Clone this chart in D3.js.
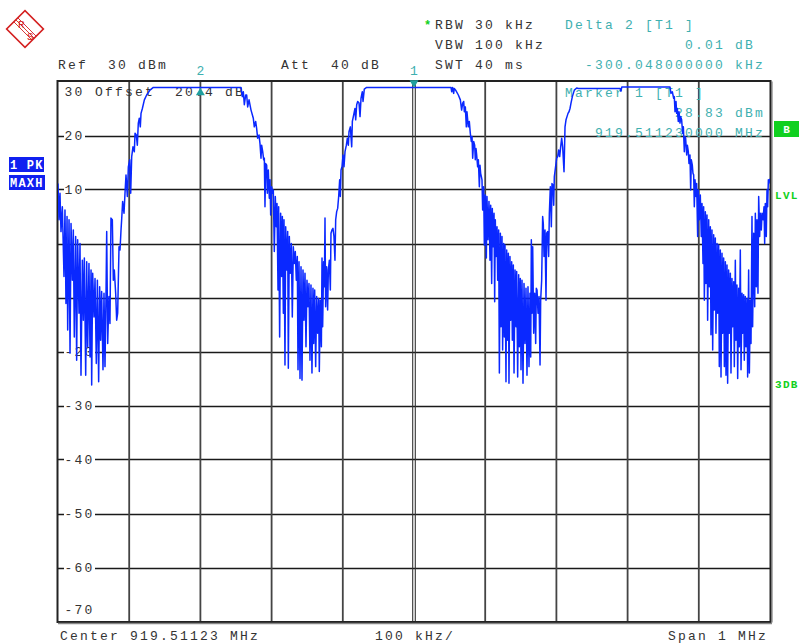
<!DOCTYPE html>
<html lang="en">
<head>
<meta charset="utf-8"/>
<title>Spectrum</title>
<script src="https://d3js.org/d3.v7.min.js"></script>
<style>
  body { margin: 0; background: #fff; }
  svg text { font-family: "Liberation Mono", "DejaVu Sans Mono", monospace; white-space: pre; }
</style>
</head>
<body>
<svg id="chart"></svg>
<script>
  const width = 799;
  const height = 644;
  const plot = {left: 58, right: 770, top: 81.5, bottom: 621.5};

  // axis values
  const spanKHz = [-500, 500];
  const levelRange = [-70, 30];
  const freqGridKHz = [-400, -300, -200, -100, 100, 200, 300, 400];
  const levelGrid = [20, 10, 0, -10, -20, -30, -40, -50, -60];
  const levelLabels = [30, 20, 10, -20, -30, -40, -50, -60, -70];

  // markers (kHz offset from centre, dBm)
  const markers = [
    {id: "1", kHz: 0, dBm: 28.83, dir: "down"},
    {id: "2", kHz: -300.048, dBm: 28.84, dir: "up"}
  ];

  // trace 1 (max hold): [kHz offset from 919.51123 MHz, dBm]
  const trace = [
    [-500,11.1],[-498.6,4.4],[-497.2,9.3],[-495.8,2.2],[-493.9,6.8],[-491.6,-6.1],[-490.2,6.2],[-488.8,-11.1],
    [-487.3,5.0],[-486.4,-16.0],[-484.5,4.4],[-483.1,-20.3],[-481.7,3.7],[-479.9,-6.8],[-478.5,2.5],[-477.1,-17.3],
    [-475.2,1.3],[-473.8,-21.6],[-472.4,0.7],[-470.5,-12.9],[-469.1,0.0],[-467.7,-24.4],[-465.8,-3.1],[-464.4,-14.2],
    [-463.0,-2.7],[-461.1,-24.4],[-459.7,-3.4],[-458.3,-19.1],[-456.5,-3.7],[-455.0,-21.0],[-453.6,-4.9],[-452.7,-26.2],
    [-451.3,-5.5],[-449.4,-13.6],[-448.0,-6.5],[-446.2,-22.2],[-444.7,-6.8],[-442.9,-25.6],[-441.5,-8.0],[-440.1,-17.9],
    [-438.7,-8.9],[-436.8,-23.4],[-435.4,-9.2],[-434.0,-22.8],[-432.6,-9.8],[-431.6,2.2],[-430.2,-18.5],[-428.4,-9.8],
    [-427.0,-14.8],[-425.6,4.7],[-423.7,4.4],[-422.3,-6.8],[-420.9,-4.9],[-419.0,-9.2],[-417.6,-14.2],[-416.2,-12.9],
    [-414.3,-0.6],[-412.9,-1.2],[-411.5,2.5],[-410.6,4.4],[-409.2,7.8],[-407.3,5.6],[-405.9,9.3],[-404.5,12.7],
    [-402.6,8.7],[-401.2,14.2],[-399.3,15.5],[-397.9,9.3],[-396.5,16.1],[-394.7,17.9],[-392.8,17.0],[-391.8,20.4],
    [-390.0,20.1],[-388.6,18.2],[-387.2,22.3],[-385.8,23.2],[-384.4,21.6],[-383.4,24.1],[-381.5,25.0],[-378.7,26.6],
    [-375.5,27.5],[-370.8,28.4],[-366.1,28.9],
    [-243.0,28.9],[-241.1,27.2],[-239.7,28.1],[-238.3,25.7],[-236.4,27.5],[-235.0,27.5],[-233.6,25.3],[-231.7,26.6],
    [-228.9,24.7],[-225.7,23.2],[-224.3,21.6],[-222.4,22.6],[-221.0,21.3],[-219.6,19.5],[-217.7,20.1],[-216.3,18.5],
    [-214.9,15.8],[-214.0,18.2],[-212.5,17.0],[-211.1,15.5],[-210.2,15.8],[-209.3,6.8],[-208.3,14.8],[-206.9,14.5],
    [-206.0,9.3],[-204.6,13.6],[-203.2,8.4],[-202.2,11.8],[-201.3,5.3],[-199.9,10.5],[-198.5,9.3],[-197.6,9.9],
    [-196.2,-1.5],[-194.8,8.7],[-193.4,3.1],[-192.4,7.4],[-191.0,-8.6],[-190.1,6.8],[-188.7,-17.3],[-187.3,5.6],
    [-185.9,-6.1],[-184.9,5.0],[-183.5,-12.9],[-182.6,4.4],[-181.2,-22.5],[-180.2,3.1],[-178.8,-4.9],[-177.4,2.2],
    [-176.5,-23.1],[-175.1,1.3],[-173.7,-5.5],[-172.3,0.0],[-170.9,-13.6],[-169.5,-0.6],[-168.1,-3.7],[-166.7,-1.5],
    [-165.3,-6.8],[-163.9,-2.4],[-162.9,-23.4],[-161.5,-3.4],[-160.1,-25.0],[-158.7,-4.3],[-157.3,-25.3],[-155.9,-4.9],
    [-154.5,-14.2],[-153.1,-5.5],[-151.7,-19.1],[-150.3,-6.8],[-148.9,-11.7],[-147.5,-7.4],[-146.1,-21.6],[-144.7,-7.7],
    [-143.3,-24.0],[-141.9,-8.3],[-140.9,-18.5],[-139.5,-8.6],[-138.1,-22.8],[-136.7,-9.8],[-135.3,-16.6],[-133.9,-10.2],
    [-133.0,-23.7],[-131.6,-10.5],[-130.1,-19.1],[-129.2,-2.7],[-128.3,-15.4],[-126.9,-3.4],[-125.9,-8.0],[-125.0,4.7],
    [-124.1,-11.7],[-122.7,-4.3],[-121.3,-12.3],[-120.3,-4.9],[-118.9,-3.1],[-117.5,-8.6],[-116.6,1.9],[-115.2,2.5],
    [-113.8,2.8],[-112.4,1.3],[-111.0,-3.1],[-110.0,4.4],[-108.6,5.9],[-107.2,6.5],[-105.8,8.7],[-104.4,11.8],
    [-103.5,8.7],[-102.5,13.6],[-101.1,14.2],[-99.7,16.4],[-98.3,14.2],[-96.9,17.0],[-95.0,18.2],[-93.6,19.5],
    [-92.2,18.2],[-91.3,20.7],[-89.4,21.6],[-87.5,17.9],[-86.6,22.6],[-84.7,23.8],[-82.9,25.0],[-81.9,22.9],
    [-80.5,25.7],[-79.1,26.3],[-77.2,26.0],[-75.8,23.5],[-74.4,26.9],[-72.6,28.1],[-71.6,26.3],[-69.8,28.6],
    [-66.5,28.9],
    [52.0,28.9],[52.9,28.1],[54.3,28.9],[55.7,27.8],[56.6,28.7],[58.5,28.4],[62.3,27.5],[65.1,26.6],
    [66.9,24.7],[68.4,26.0],[69.8,26.3],[70.7,24.4],[72.1,25.3],[73.5,21.6],[74.4,24.4],[75.4,22.9],
    [76.3,21.6],[77.7,22.6],[79.1,20.4],[80.5,18.9],[81.5,19.8],[82.4,15.8],[83.8,18.9],[85.2,18.2],
    [86.1,15.5],[87.1,17.6],[88.0,16.4],[89.4,14.2],[90.4,15.5],[91.8,10.5],[92.7,14.5],[93.6,13.0],
    [94.6,12.4],[95.5,11.8],[96.4,6.2],[97.8,10.5],[98.8,-0.3],[100.2,9.0],[101.6,-2.7],[102.5,8.7],
    [103.9,0.7],[105.3,7.8],[106.7,-3.1],[107.7,7.1],[109.1,-7.4],[110.0,6.5],[111.0,-0.6],[112.4,5.6],
    [113.3,-10.8],[114.2,4.4],[115.2,-2.4],[116.6,3.1],[117.5,-6.8],[118.9,2.5],[119.9,-24.0],[121.3,1.9],
    [122.2,-15.4],[123.6,1.3],[124.5,-19.7],[125.9,0.0],[126.9,-17.3],[127.8,-0.3],[129.2,-25.6],[130.2,-1.2],
    [131.1,-17.9],[132.5,-1.8],[133.4,-25.9],[134.8,-2.4],[135.8,-14.2],[137.2,-3.4],[138.1,-17.9],[139.5,-4.0],
    [140.5,-24.0],[141.9,-4.9],[143.3,-15.4],[144.2,-5.2],[145.6,-24.7],[147.0,-5.8],[147.9,-19.1],[149.3,-6.5],
    [150.3,-23.4],[151.7,-6.8],[153.1,-25.9],[154.5,-7.4],[155.9,-18.5],[157.3,-8.3],[158.7,-24.4],[160.1,-8.0],
    [161.5,-22.8],[162.9,-9.2],[163.9,-21.0],[164.8,0.7],[165.7,-12.9],[166.7,-0.6],[168.1,-16.6],[169.5,-9.2],
    [170.9,-18.5],[171.8,-8.3],[172.8,-8.6],[174.2,-12.9],[175.6,-9.8],[177.0,-22.5],[177.9,-10.5],[179.3,-6.8],
    [180.7,5.0],[181.6,3.7],[182.6,-2.4],[184.0,2.5],[185.4,-10.5],[186.3,1.9],[187.7,2.2],[189.1,-2.4],
    [190.1,5.6],[191.5,10.5],[192.9,3.1],[193.8,11.1],[195.2,10.8],[196.2,7.1],[197.1,12.4],[198.0,13.3],
    [199.4,14.8],[200.4,15.8],[201.8,16.1],[203.2,17.3],[204.6,16.1],[206.0,17.9],[207.4,19.5],[208.8,17.9],
    [210.7,13.3],[212.1,21.6],[213.5,22.9],[214.9,23.5],[216.3,24.1],[217.7,24.4],[219.1,25.0],[220.5,26.0],
    [222.4,27.2],[225.2,28.4],[228.5,28.8],[230.8,28.7],
    [289.5,28.7],[290.7,28.2],[291.9,29.0],
    [359.5,29.0],[360.9,27.8],[362.8,28.1],[364.7,26.9],[365.6,27.2],[366.6,24.4],[368.0,26.3],[368.9,24.1],
    [369.8,25.0],[371.2,22.6],[372.2,24.4],[373.6,22.3],[374.5,23.5],[375.9,22.9],[377.3,20.4],[378.3,21.6],
    [379.7,17.0],[380.6,19.8],[381.5,19.5],[383.0,16.4],[383.9,18.2],[385.3,17.0],[386.2,14.8],[387.6,16.4],
    [388.6,9.9],[389.5,15.5],[390.9,14.5],[391.8,13.0],[392.8,12.7],[393.7,6.8],[394.7,11.8],[396.1,8.7],
    [397.0,11.1],[398.4,1.3],[399.3,9.9],[400.7,4.4],[402.1,9.0],[403.5,1.3],[404.5,7.4],[405.9,-3.7],
    [406.8,6.8],[407.8,-10.5],[409.2,5.9],[410.1,-7.4],[411.5,5.3],[412.4,-14.2],[413.9,4.4],[414.8,-8.0],
    [416.2,3.1],[417.1,-16.9],[418.5,2.5],[419.5,-19.7],[420.9,1.6],[421.8,-12.3],[423.2,1.0],[424.1,-16.6],
    [425.6,0.0],[426.5,-12.9],[427.9,-0.3],[428.8,-22.8],[430.2,-1.2],[431.2,-24.7],[432.6,-1.8],[433.5,-16.6],
    [434.9,-2.7],[435.9,-22.8],[437.3,-3.4],[438.2,-24.4],[439.6,-4.0],[440.5,-25.9],[441.9,-4.9],[442.9,-16.6],
    [444.3,-5.5],[445.2,-24.0],[446.6,-6.5],[447.6,-15.4],[449.0,-7.1],[449.9,-22.8],[451.3,-3.1],[452.2,-17.9],
    [453.6,-7.7],[454.6,-25.0],[456.0,-8.3],[456.9,-19.1],[458.3,-1.2],[459.3,-23.4],[460.7,-9.2],[461.6,-16.6],
    [463.0,-9.5],[463.9,-21.6],[465.3,-9.8],[466.3,-19.1],[467.7,-10.2],[468.6,-24.7],[470.0,-4.9],[471.0,-24.0],
    [472.4,-10.5],[473.3,-18.5],[474.7,5.0],[475.6,-15.4],[477.1,1.9],[478.5,-11.7],[479.4,5.6],[480.8,-8.0],
    [481.7,4.4],[483.1,-9.2],[484.1,8.7],[485.5,1.3],[486.4,5.6],[487.8,2.5],[488.8,5.6],[490.2,4.4],
    [491.6,6.8],[492.5,0.0],[493.4,7.4],[494.8,1.3],[495.8,9.9],[496.7,6.8],[497.7,11.8],[498.6,11.2],
    [500,12.0]
  ];

  const textColor = "#333";
  const cyan = "#3fb0b0";
  const green = "#10d020";
  const blue = "#1020f0";

  const svg = d3.select("#chart")
    .attr("width", width)
    .attr("height", height);

  const x = d3.scaleLinear().domain(spanKHz).range([plot.left, plot.right]);
  const y = d3.scaleLinear().domain(levelRange).range([plot.bottom, plot.top]);

  // R&S logo
  const logo = svg.append("g").attr("transform", "translate(25,29)");
  logo.append("rect")
    .attr("x", -13).attr("y", -13).attr("width", 26).attr("height", 26)
    .attr("transform", "rotate(45)")
    .attr("fill", "none").attr("stroke", "#d42020").attr("stroke-width", 1.6);
  [-2, 0, 2].forEach((o) => {
    logo.append("line")
      .attr("x1", -9 + o).attr("y1", -9 - o).attr("x2", 9 + o).attr("y2", 9 - o)
      .attr("stroke", "#d42020").attr("stroke-width", 0.9);
  });
  logo.append("text").attr("x", -7).attr("y", -1).text("R")
    .attr("font-size", 11).attr("fill", "#d42020");
  logo.append("text").attr("x", 2).attr("y", 11).text("S")
    .attr("font-size", 11).attr("fill", "#d42020");

  const mono = (sel) => sel.attr("font-size", 13).attr("letter-spacing", 2.2);

  // header
  const header = [
    {t: "Ref  30 dBm", x: 58, y: 69, c: textColor},
    {t: "Att  40 dB", x: 281, y: 69, c: textColor},
    {t: "RBW 30 kHz", x: 435, y: 29, c: textColor},
    {t: "VBW 100 kHz", x: 435, y: 49, c: textColor},
    {t: "SWT 40 ms", x: 435, y: 69, c: textColor},
    {t: "Delta 2 [T1 ]", x: 565, y: 29, c: cyan},
    {t: "0.01 dB", x: 685, y: 49, c: cyan},
    {t: "-300.048000000 kHz", x: 585, y: 69, c: cyan},
    {t: "Center 919.51123 MHz", x: 60, y: 640, c: textColor},
    {t: "100 kHz/", x: 375, y: 640, c: textColor},
    {t: "Span 1 MHz", x: 668, y: 640, c: textColor}
  ];
  header.forEach((d) => {
    svg.append("text").attr("x", d.x).attr("y", d.y).attr("fill", d.c).text(d.t).call(mono);
  });
  svg.append("text").attr("x", 424).attr("y", 29).attr("fill", green)
    .attr("font-size", 12).attr("font-weight", "bold").text("*");

  // grid
  const grid = svg.append("g");
  grid.selectAll(".hline")
    .data(levelGrid)
    .enter()
    .append("line")
      .attr("x1", plot.left).attr("x2", plot.right)
      .attr("y1", (d) => Math.round(y(d)) + 0.5).attr("y2", (d) => Math.round(y(d)) + 0.5)
      .attr("stroke", "#1a1a1a").attr("stroke-width", 1.6);
  grid.selectAll(".vline")
    .data(freqGridKHz)
    .enter()
    .append("line")
      .attr("x1", (d) => x(d)).attr("x2", (d) => x(d))
      .attr("y1", plot.top).attr("y2", plot.bottom)
      .attr("stroke", "#444").attr("stroke-width", 1.8);
  // centre line is doubled
  [-1.3, 1.3].forEach((o) => {
    grid.append("line")
      .attr("x1", x(0) + o).attr("x2", x(0) + o)
      .attr("y1", plot.top).attr("y2", plot.bottom)
      .attr("stroke", "#333").attr("stroke-width", 1.1);
  });

  // level labels
  levelLabels.forEach((v) => {
    const s = String(v);
    let by = y(v) + 4.5;
    if (v === 30) by = 96;
    if (v === -70) by = 614;
    if (v !== 30 && v !== -70) {
      svg.append("rect")
        .attr("x", 64).attr("y", y(v) - 5).attr("width", s.length * 10 + 1).attr("height", 10)
        .attr("fill", "#fff");
    }
    svg.append("text").attr("x", 64.5).attr("y", by).attr("fill", textColor).text(s).call(mono);
  });
  svg.append("text").attr("x", 95).attr("y", 96).attr("fill", textColor)
    .text("Offset  20.4 dB").call(mono);

  // marker readout
  const readout = [
    {t: "Marker 1 [T1 ]", x: 565, y: 97},
    {t: "28.83 dBm", x: 675, y: 117},
    {t: "919.511230000 MHz", x: 595, y: 137}
  ];
  readout.forEach((d) => {
    svg.append("text").attr("x", d.x).attr("y", d.y).attr("fill", cyan).text(d.t).call(mono);
  });

  // frame
  const frame = svg.append("g").attr("fill", "none");
  frame.append("rect")
    .attr("x", plot.left - 0.5).attr("y", plot.top - 0.5)
    .attr("width", plot.right - plot.left + 1).attr("height", plot.bottom - plot.top + 1)
    .attr("stroke", "#222").attr("stroke-width", 2);
  frame.append("line")
    .attr("x1", plot.right + 2).attr("x2", plot.right + 2)
    .attr("y1", plot.top).attr("y2", plot.bottom + 1)
    .attr("stroke", "#666").attr("stroke-width", 1);
  frame.append("line")
    .attr("x1", plot.left).attr("x2", plot.right + 2)
    .attr("y1", plot.bottom + 2).attr("y2", plot.bottom + 2)
    .attr("stroke", "#888").attr("stroke-width", 1.5);

  // trace
  svg.append("clipPath").attr("id", "clip")
    .append("rect")
      .attr("x", plot.left).attr("y", plot.top)
      .attr("width", plot.right - plot.left).attr("height", plot.bottom - plot.top);

  const line = d3.line()
    .x((d) => x(d[0]))
    .y((d) => y(d[1]));

  svg.append("path")
    .datum(trace)
    .attr("clip-path", "url(#clip)")
    .attr("fill", "none")
    .attr("stroke", "#0a28ff")
    .attr("stroke-width", 1.5)
    .attr("stroke-linejoin", "round")
    .attr("d", line);

  // markers
  markers.forEach((m) => {
    const mx = x(m.kHz);
    const my = y(m.dBm);
    const tri = m.dir === "down"
      ? [[mx - 4.5, my - 7.5], [mx + 4.5, my - 7.5], [mx, my]]
      : [[mx - 4.5, my + 7.5], [mx + 4.5, my + 7.5], [mx, my]];
    svg.append("path")
      .attr("d", "M" + tri.join("L") + "Z")
      .attr("fill", "#1f9f9f");
    svg.append("text")
      .attr("x", mx).attr("y", 75)
      .attr("text-anchor", "middle")
      .attr("fill", cyan)
      .attr("font-size", 13)
      .text(m.id);
  });

  // side badges
  const badges = [
    {t: "1 PK", x: 9, y: 157, w: 35, c: blue},
    {t: "MAXH", x: 9, y: 175, w: 36, c: blue}
  ];
  badges.forEach((b) => {
    svg.append("rect").attr("x", b.x).attr("y", b.y).attr("width", b.w).attr("height", 15).attr("fill", b.c);
    svg.append("text").attr("x", b.x + 1).attr("y", b.y + 11.5).attr("fill", "#fff")
      .attr("font-size", 12).attr("font-weight", "bold").attr("letter-spacing", 1.2).text(b.t);
  });
  svg.append("rect").attr("x", 774).attr("y", 121).attr("width", 25).attr("height", 16).attr("fill", green);
  svg.append("text").attr("x", 786.5).attr("y", 133).attr("text-anchor", "middle").attr("fill", "#fff")
    .attr("font-size", 11).attr("font-weight", "bold").text("B");
  [{t: "LVL", y: 199}, {t: "3DB", y: 388}].forEach((d) => {
    svg.append("text").attr("x", 775).attr("y", d.y).attr("fill", green)
      .attr("font-size", 11).attr("font-weight", "bold").attr("letter-spacing", 1.3).text(d.t);
  });
</script>
</body>
</html>
